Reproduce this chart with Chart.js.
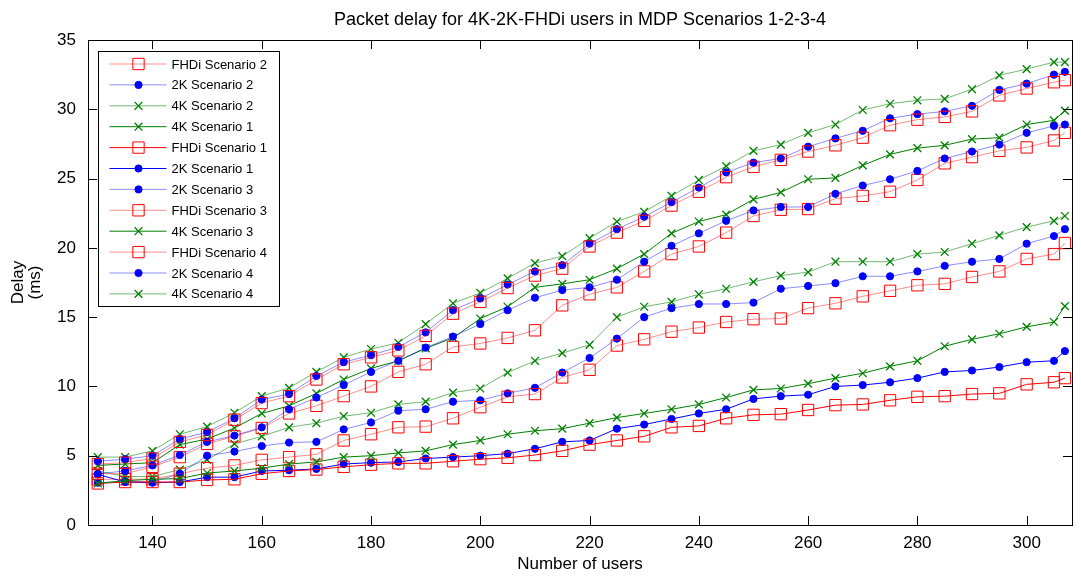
<!DOCTYPE html>
<html>
<head>
<meta charset="utf-8">
<script src="https://cdn.jsdelivr.net/npm/chart.js@4.4.1/dist/chart.umd.min.js"></script>
<style>
  html, body { margin: 0; padding: 0; background: #fff; }
  canvas { display: block; }
</style>
</head>
<body>
<canvas id="chart" width="1081" height="576"></canvas>
<script>
// number of users (x values)
const users = [130, 135, 140, 145, 150, 155, 160, 165, 170, 175, 180, 185, 190, 195, 200, 205, 210, 215, 220,
  225, 230, 235, 240, 245, 250, 255, 260, 265, 270, 275, 280, 285, 290, 295, 300, 305, 307];

// delay in ms
const fhdiS2 = [4.4, 4.5, 4.8, 6.0, 6.5, 7.6, 8.8, 9.3, 10.5, 11.6, 12.1, 12.6, 13.65, 15.25, 16.1, 17.1, 18.0, 18.5, 20.1,
  21.1, 21.95, 23.05, 24.05, 25.1, 25.85, 26.35, 26.95, 27.4, 27.95, 28.85, 29.25, 29.45, 29.85, 31.0, 31.5, 31.95, 32.1];
const k2S2 = [4.6, 4.75, 5.0, 6.2, 6.7, 7.7, 9.05, 9.45, 10.75, 11.75, 12.25, 12.85, 13.9, 15.5, 16.35, 17.35, 18.3, 18.75, 20.3,
  21.35, 22.25, 23.3, 24.35, 25.45, 26.15, 26.45, 27.3, 27.9, 28.45, 29.35, 29.65, 29.85, 30.25, 31.4, 31.85, 32.5, 32.7];
const k4S2 = [4.9, 4.9, 5.35, 6.55, 7.1, 8.1, 9.3, 9.9, 11.05, 12.1, 12.7, 13.15, 14.5, 16.0, 16.75, 17.8, 18.9, 19.4, 20.7,
  21.9, 22.6, 23.75, 24.9, 25.9, 27.0, 27.45, 28.3, 28.9, 29.95, 30.4, 30.65, 30.75, 31.45, 32.45, 32.9, 33.4, 33.4];
const k4S1 = [3.0, 3.2, 3.3, 3.35, 3.75, 3.9, 4.1, 4.4, 4.55, 4.9, 5.0, 5.2, 5.35, 5.8, 6.1, 6.55, 6.8, 6.95, 7.35,
  7.75, 8.05, 8.35, 8.7, 9.2, 9.75, 9.85, 10.2, 10.6, 10.95, 11.45, 11.85, 12.9, 13.4, 13.8, 14.3, 14.65, 15.8];
const fhdiS1 = [3.0, 3.1, 3.1, 3.1, 3.25, 3.3, 3.7, 3.9, 4.0, 4.2, 4.35, 4.45, 4.45, 4.6, 4.75, 4.85, 5.05, 5.35, 5.8,
  6.1, 6.4, 7.05, 7.15, 7.7, 7.95, 8.0, 8.3, 8.65, 8.7, 9.0, 9.25, 9.3, 9.45, 9.5, 10.15, 10.3, 10.6];
const k2S1 = [3.65, 3.1, 3.05, 3.1, 3.45, 3.45, 3.9, 3.95, 4.05, 4.4, 4.5, 4.55, 4.8, 4.9, 5.0, 5.15, 5.5, 6.0, 6.1,
  6.95, 7.25, 7.65, 8.05, 8.35, 9.1, 9.3, 9.4, 10.0, 10.1, 10.3, 10.6, 11.05, 11.15, 11.4, 11.75, 11.85, 12.55];
const k2S3 = [3.7, 3.9, 4.3, 5.05, 6.0, 6.45, 7.05, 8.35, 9.2, 10.1, 11.05, 11.85, 12.8, 13.6, 14.5, 15.5, 16.4, 16.95, 17.15,
  17.7, 19.0, 20.15, 21.05, 21.95, 22.7, 22.95, 22.95, 23.9, 24.5, 24.95, 25.55, 26.45, 26.95, 27.45, 28.3, 28.8, 28.9];
const fhdiS3 = [3.7, 3.7, 4.2, 4.9, 5.85, 6.4, 7.0, 8.05, 8.6, 9.3, 10.0, 11.05, 11.6, 12.85, 13.1, 13.5, 14.05, 15.85, 16.65,
  17.15, 18.3, 19.55, 20.1, 21.1, 22.3, 22.75, 22.8, 23.55, 23.75, 24.05, 24.9, 26.1, 26.55, 27.0, 27.25, 27.75, 28.3];
const k4S3 = [4.3, 4.4, 4.5, 5.8, 6.2, 7.0, 8.05, 8.6, 9.5, 10.5, 11.3, 11.85, 12.75, 13.5, 14.9, 15.75, 17.15, 17.4, 17.7,
  18.5, 19.55, 21.05, 21.9, 22.4, 23.5, 24.0, 24.95, 25.05, 25.95, 26.75, 27.2, 27.4, 27.85, 27.95, 28.9, 29.2, 29.9];
const fhdiS4 = [3.3, 3.3, 3.3, 3.7, 4.1, 4.3, 4.7, 4.9, 5.1, 6.1, 6.55, 7.05, 7.1, 7.7, 8.5, 9.25, 9.45, 10.65, 11.2,
  12.95, 13.4, 13.95, 14.25, 14.65, 14.85, 14.9, 15.65, 16.0, 16.5, 16.9, 17.3, 17.4, 17.9, 18.3, 19.2, 19.55, 20.35];
const k2S4 = [3.05, 3.15, 3.1, 3.7, 5.0, 5.3, 5.7, 5.95, 6.0, 6.9, 7.4, 8.25, 8.35, 8.9, 9.0, 9.5, 9.9, 11.0, 12.05,
  13.45, 15.0, 15.65, 15.95, 15.95, 16.05, 17.05, 17.25, 17.45, 17.95, 17.95, 18.3, 18.7, 19.0, 19.2, 20.3, 20.85, 21.35];
const k4S4 = [3.9, 3.5, 3.5, 4.0, 4.7, 5.85, 6.4, 7.05, 7.35, 7.85, 8.1, 8.7, 8.9, 9.55, 9.85, 11.0, 11.85, 12.4, 13.0,
  15.0, 15.75, 16.1, 16.65, 17.05, 17.55, 18.0, 18.25, 19.0, 19.0, 19.0, 19.55, 19.7, 20.3, 20.9, 21.5, 21.95, 22.3];

// axis limits and ticks
const xMin = 128.2;
const xMax = 308.3;
const xTicks = [140, 160, 180, 200, 220, 240, 260, 280, 300];
const yTicks = [0, 5, 10, 15, 20, 25, 30, 35];

const FONT = '"Liberation Sans", Arial, Helvetica, sans-serif';

// marker styles per resolution
const styles = {
  FHDi: { color: '#ff0000', pale: 'rgba(255,0,0,0.45)', pointStyle: 'rect', radius: 8, fill: 'rgba(0,0,0,0)', width: 1 },
  '2K': { color: '#0000ff', pale: 'rgba(0,0,255,0.45)', pointStyle: 'circle', radius: 3.6, fill: '#0000ff', width: 1 },
  '4K': { color: '#008000', pale: 'rgba(0,128,0,0.55)', pointStyle: 'crossRot', radius: 5.5, fill: 'rgba(0,0,0,0)', width: 1.3 },
};

// [label, resolution, values, pale line?]
const series = [
  ['FHDi Scenario 2', 'FHDi', fhdiS2, true],
  ['2K Scenario 2', '2K', k2S2, true],
  ['4K Scenario 2', '4K', k4S2, true],
  ['4K Scenario 1', '4K', k4S1, false],
  ['FHDi Scenario 1', 'FHDi', fhdiS1, false],
  ['2K Scenario 1', '2K', k2S1, false],
  ['2K Scenario 3', '2K', k2S3, true],
  ['FHDi Scenario 3', 'FHDi', fhdiS3, true],
  ['4K Scenario 3', '4K', k4S3, false],
  ['FHDi Scenario 4', 'FHDi', fhdiS4, true],
  ['2K Scenario 4', '2K', k2S4, true],
  ['4K Scenario 4', '4K', k4S4, true],
];

const datasets = series.map(([label, res, vals, pale]) => {
  const s = styles[res];
  return {
    label: label,
    data: users.map((u, i) => ({ x: u, y: vals[i] })),
    borderColor: pale ? s.pale : s.color,
    borderWidth: 1,
    tension: 0,
    fill: false,
    pointStyle: s.pointStyle,
    pointRadius: s.radius,
    pointBorderColor: s.color,
    pointBackgroundColor: s.fill,
    pointBorderWidth: s.width,
    _res: res,
    _pale: pale,
  };
});

// matlab style box, inward ticks and the boxed legend
const matlabAxes = {
  id: 'matlabAxes',
  afterDraw(chart) {
    const { ctx, chartArea: ca } = chart;
    const xs = chart.scales.x, ys = chart.scales.y;
    const tl = 9;
    ctx.save();
    ctx.strokeStyle = '#000';
    ctx.lineWidth = 1;
    ctx.beginPath();
    xTicks.forEach(v => {
      const px = Math.round(xs.getPixelForValue(v)) + 0.5;
      ctx.moveTo(px, ca.bottom); ctx.lineTo(px, ca.bottom - tl);
      ctx.moveTo(px, ca.top); ctx.lineTo(px, ca.top + tl);
    });
    yTicks.forEach(v => {
      const py = Math.round(ys.getPixelForValue(v)) + 0.5;
      ctx.moveTo(ca.left, py); ctx.lineTo(ca.left + tl, py);
      ctx.moveTo(ca.right, py); ctx.lineTo(ca.right - tl, py);
    });
    ctx.stroke();
    ctx.strokeRect(Math.round(ca.left) + 0.5, Math.round(ca.top) + 0.5,
      Math.round(ca.right - ca.left), Math.round(ca.bottom - ca.top));

    // legend
    const bx = Math.round(ca.left) + 10.5, by = Math.round(ca.top) + 11.5;
    const bw = 181, bh = 255;
    ctx.fillStyle = '#fff';
    ctx.fillRect(bx, by, bw, bh);
    ctx.strokeRect(bx, by, bw, bh);
    ctx.font = '13px ' + FONT;
    ctx.textBaseline = 'middle';
    ctx.textAlign = 'left';
    chart.data.datasets.forEach((ds, i) => {
      const s = styles[ds._res];
      const y = by + 12.5 + i * 20.9;
      ctx.strokeStyle = ds.borderColor;
      ctx.lineWidth = 1;
      ctx.beginPath();
      ctx.moveTo(bx + 11, y); ctx.lineTo(bx + 68, y);
      ctx.stroke();
      ctx.strokeStyle = s.color;
      ctx.fillStyle = s.fill;
      ctx.lineWidth = s.width;
      Chart.helpers.drawPoint(ctx, { pointStyle: s.pointStyle, radius: s.radius, rotation: 0, borderWidth: s.width }, bx + 40, y);
      ctx.fillStyle = '#000';
      ctx.fillText(ds.label, bx + 73, y + 1);
    });
    ctx.restore();
  }
};

new Chart(document.getElementById('chart'), {
  type: 'line',
  data: { datasets: datasets },
  options: {
    responsive: false,
    animation: false,
    devicePixelRatio: 1,
    layout: { padding: { left: 0, right: 3, top: 0, bottom: 0 } },
    plugins: {
      legend: { display: false },
      tooltip: { enabled: false },
      title: {
        display: true,
        text: 'Packet delay for 4K-2K-FHDi users in MDP Scenarios 1-2-3-4',
        fullSize: false,
        color: '#000',
        font: { family: FONT, size: 18, weight: 'normal' },
        padding: { top: 9, bottom: 9.4 },
      },
    },
    scales: {
      x: {
        type: 'linear',
        min: xMin,
        max: xMax,
        afterBuildTicks: (scale) => { scale.ticks = xTicks.map(v => ({ value: v })); },
        afterFit: (scale) => { scale.height = 51; },
        grid: { display: false },
        border: { display: false },
        ticks: { color: '#000', font: { family: FONT, size: 17 }, padding: 0, maxRotation: 0, autoSkip: false },
        title: { display: true, text: 'Number of users', color: '#000', font: { family: FONT, size: 17 }, padding: { top: 0, bottom: 1 } },
      },
      y: {
        min: 0,
        max: 35,
        afterBuildTicks: (scale) => { scale.ticks = yTicks.map(v => ({ value: v })); },
        afterFit: (scale) => { scale.width = 88; },
        grid: { display: false },
        border: { display: false },
        ticks: { color: '#000', font: { family: FONT, size: 17 }, padding: 4 },
        title: { display: true, text: ['Delay', '(ms)'], color: '#000', font: { family: FONT, size: 17, lineHeight: 1.0 }, padding: { top: 10, bottom: 0 } },
      },
    },
  },
  plugins: [matlabAxes],
});
</script>
</body>
</html>
